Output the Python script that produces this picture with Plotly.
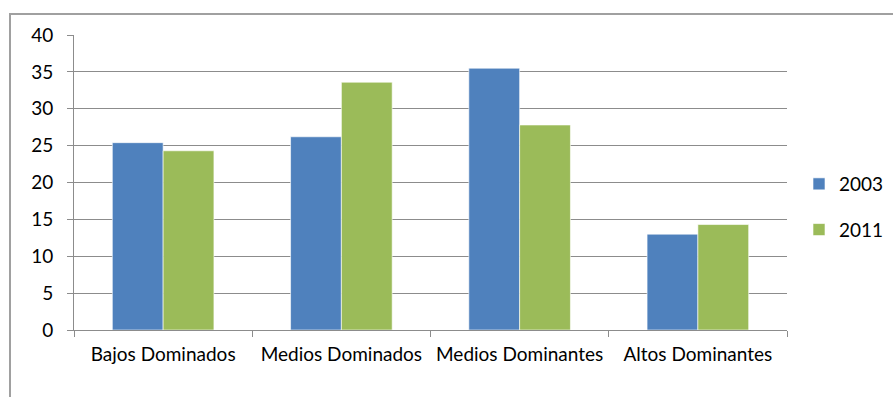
import plotly.graph_objects as go

categories = ["Bajos Dominados", "Medios Dominados", "Medios Dominantes", "Altos Dominantes"]
values_2003 = [25.4, 26.2, 35.5, 13.0]
values_2011 = [24.3, 33.6, 27.8, 14.3]
y_ticks = [0, 5, 10, 15, 20, 25, 30, 35, 40]

FONT = "Lato"
FS = 19
GRID = "#8c8c8c"

fig = go.Figure()
fig.add_trace(go.Bar(name="2003", x=categories, y=values_2003,
                     marker=dict(color="#4F81BD", line=dict(color="rgba(255,255,255,0.6)", width=1)),
                     legendgroup="a"))
fig.add_trace(go.Bar(name="2011", x=categories, y=values_2011,
                     marker=dict(color="#9BBB59", line=dict(color="rgba(255,255,255,0.6)", width=1)),
                     legendgroup="b"))

L, R, T, B = 74, 106, 35, 67
W, H = 893, 397
pw, ph = W - L - R, H - T - B

fig.update_layout(
    width=W, height=H,
    margin=dict(l=L, r=R, t=T, b=B, autoexpand=False),
    paper_bgcolor="white", plot_bgcolor="white",
    barmode="group", bargap=0.43, bargroupgap=0,
    font=dict(family=FONT, size=FS, color="#000000"),
    showlegend=True,
    legend=dict(x=(799 - L) / pw, y=(330 - 207) / ph, xanchor="left", yanchor="middle",
                tracegroupgap=18, traceorder="grouped",
                font=dict(family=FONT, size=FS, color="#000000"),
                bgcolor="rgba(0,0,0,0)"),
    xaxis=dict(showline=True, linecolor=GRID, linewidth=1,
               ticks="outside", tickson="boundaries", ticklen=6, tickcolor=GRID,
               ticklabelstandoff=7,
               showgrid=False, tickfont=dict(family=FONT, size=FS)),
    yaxis=dict(range=[0, 40], tickvals=y_ticks, showline=True, linecolor=GRID, linewidth=1,
               ticks="outside", ticklen=6, tickcolor=GRID, ticklabelstandoff=10,
               showgrid=True, gridcolor=GRID, gridwidth=1,
               zeroline=False, tickfont=dict(family=FONT, size=FS)),
    shapes=[dict(type="rect", xref="paper", yref="paper",
                 x0=(10 - L) / pw, x1=(W + 20 - L) / pw,
                 y0=-(B + 20) / ph, y1=(330 - 14) / ph,
                 line=dict(color="#a0a0a0", width=2), layer="below")],
)

fig.write_html("out.html")
